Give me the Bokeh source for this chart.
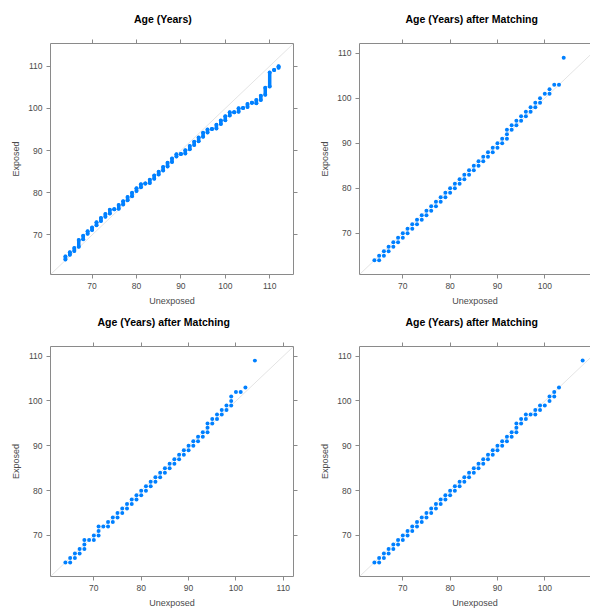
from bokeh.plotting import figure
from bokeh.layouts import column, row
from bokeh.models import Range1d, LinearAxis, FixedTicker, Slope, ColumnDataSource, Title
from bokeh.core.properties import value
from bokeh.embed import file_html
from bokeh.resources import INLINE

# ---------------- data ----------------
ticks = [70, 80, 90, 100, 110]
titles = ["Age (Years)", "Age (Years) after Matching",
          "Age (Years) after Matching", "Age (Years) after Matching"]
x_label = "Unexposed"
y_label = "Exposed"

# Panel 1 (before matching): dense quantile clusters, one per unexposed age
p1_x  = [64, 65, 66, 67, 68, 69, 70, 71, 72, 73, 74, 75, 76, 77, 78, 79, 80, 81, 82, 83,
         84, 85, 86, 87, 88, 89, 90, 91, 92, 93, 94, 95, 96, 97, 98, 99, 100, 101, 102, 103,
         104, 105, 106, 107, 108, 109, 110, 111, 112]
p1_lo = [64.2, 65.3, 66.2, 67.2, 69.0, 70.3, 71.2, 72.3, 73.3, 74.3, 75.1, 76.1, 76.2, 77.2, 78.2, 79.2, 80.4, 81.3, 82.2, 82.3,
         83.3, 84.3, 85.3, 86.2, 87.3, 88.6, 89.2, 89.3, 90.3, 91.3, 92.2, 93.3, 94.3, 95.1, 95.2, 96.3, 97.2, 98.3, 99.1, 99.2,
         100.1, 100.3, 101.3, 101.2, 102.0, 103.2, 105.2, 109.1, 109.6]
p1_hi = [64.9, 65.9, 66.9, 68.8, 69.8, 70.9, 71.8, 73.0, 74.0, 75.0, 76.0, 76.1, 77.1, 78.0, 79.0, 80.0, 81.1, 82.0, 82.2, 83.1,
         84.1, 85.0, 86.1, 87.1, 88.1, 89.1, 89.2, 90.1, 91.1, 92.1, 93.1, 94.2, 95.0, 95.1, 96.1, 97.1, 98.1, 99.1, 99.1, 100.0,
         100.1, 101.0, 101.3, 102.0, 103.0, 104.9, 108.5, 109.1, 110.0]

# Panel 2
p2_x = [64, 65, 65, 66, 66, 67, 67, 68, 68, 69, 69, 70, 70, 71, 71, 72, 72, 73, 73, 74,
        74, 75, 75, 76, 76, 77, 77, 78, 78, 79, 79, 80, 80, 81, 81, 82, 82, 83, 83, 84,
        84, 85, 85, 86, 86, 87, 87, 88, 88, 89, 89, 90, 90, 91, 91, 92, 92, 92, 93, 93,
        94, 94, 95, 95, 96, 96, 97, 97, 98, 98, 99, 99, 100, 101, 101, 102, 103, 104]
p2_y = [64, 64, 65, 65, 66, 66, 67, 67, 68, 68, 69, 69, 70, 70, 71, 71, 72, 72, 73, 73,
        74, 74, 75, 75, 76, 76, 77, 77, 78, 78, 79, 79, 80, 80, 81, 81, 82, 82, 83, 83,
        84, 84, 85, 85, 86, 86, 87, 87, 88, 88, 89, 89, 90, 90, 91, 91, 92, 93, 93, 94,
        94, 95, 95, 96, 96, 97, 97, 98, 98, 99, 99, 100, 101, 101, 102, 103, 103, 109]

# Panel 3
p3_x = [64, 65, 65, 66, 66, 67, 67, 68, 68, 68, 69, 70, 70, 71, 71, 71, 72, 73, 73, 74,
        74, 75, 75, 76, 76, 77, 77, 78, 78, 79, 79, 80, 80, 81, 81, 82, 82, 83, 83, 84,
        84, 85, 85, 86, 86, 87, 87, 88, 88, 89, 89, 90, 90, 91, 91, 92, 92, 93, 93, 94,
        94, 94, 95, 95, 96, 96, 97, 97, 98, 98, 99, 99, 99, 100, 101, 102, 104]
p3_y = [64, 64, 65, 65, 66, 66, 67, 67, 68, 69, 69, 69, 70, 70, 71, 72, 72, 72, 73, 73,
        74, 74, 75, 75, 76, 76, 77, 77, 78, 78, 79, 79, 80, 80, 81, 81, 82, 82, 83, 83,
        84, 84, 85, 85, 86, 86, 87, 87, 88, 88, 89, 89, 90, 90, 91, 91, 92, 92, 93, 93,
        94, 95, 95, 96, 96, 97, 97, 98, 98, 99, 99, 100, 101, 102, 102, 103, 109]

# Panel 4
p4_x = [64, 65, 65, 66, 66, 67, 67, 68, 68, 69, 69, 70, 70, 71, 71, 72, 72, 73, 73, 74,
        74, 75, 75, 76, 76, 77, 77, 78, 78, 79, 79, 80, 80, 81, 81, 82, 82, 83, 83, 84,
        84, 85, 85, 86, 86, 87, 87, 88, 88, 89, 89, 90, 90, 91, 91, 92, 92, 93, 93, 94,
        94, 94, 95, 95, 96, 96, 97, 98, 98, 99, 99, 100, 101, 101, 102, 102, 103, 108]
p4_y = [64, 64, 65, 65, 66, 66, 67, 67, 68, 68, 69, 69, 70, 70, 71, 71, 72, 72, 73, 73,
        74, 74, 75, 75, 76, 76, 77, 77, 78, 78, 79, 79, 80, 80, 81, 81, 82, 82, 83, 83,
        84, 84, 85, 85, 86, 86, 87, 87, 88, 88, 89, 89, 90, 90, 91, 91, 92, 92, 93, 93,
        94, 95, 95, 96, 96, 97, 97, 97, 98, 98, 99, 99, 100, 101, 101, 102, 103, 109]

# ---------------- style ----------------
BLUE = "#0080ff"
BOX = "#8a8a8a"
LABEL = "#4a4a4a"
DIAG = "#e4e4e4"
FONT = "Liberation Sans"
DOT = 4
HEADER_H = 30


def style_axis(ax, labels=True):
    ax.ticker = FixedTicker(ticks=ticks)
    ax.axis_line_color = BOX
    ax.axis_line_width = 1
    ax.major_tick_line_color = BOX
    ax.major_tick_out = 4
    ax.major_tick_in = 0
    ax.minor_tick_line_color = None
    ax.major_label_text_font = FONT
    if labels:
        ax.major_label_text_color = LABEL
        ax.major_label_text_font_size = "8.5px"
        ax.major_label_standoff = 4
    else:
        ax.major_label_text_color = None
        ax.major_label_text_font_size = "1px"
        ax.major_label_standoff = 0
    ax.axis_label_text_font = FONT
    ax.axis_label_text_font_size = "9px"
    ax.axis_label_text_font_style = "normal"
    ax.axis_label_text_color = LABEL


def make_title(text, offset, standoff):
    return Title(text=text, align="left", offset=offset, standoff=standoff,
                 text_font=FONT, text_font_style="bold", text_font_size="10.5px",
                 text_color="#000000")


def make_panel(xr, yr, w, h, bl, br, bt, bb, right_axis):
    p = figure(width=w, height=h, x_range=Range1d(*xr), y_range=Range1d(*yr),
               output_backend="svg", toolbar_location=None,
               min_border_left=bl, min_border_right=br,
               min_border_top=bt, min_border_bottom=bb,
               x_axis_label=x_label, y_axis_label=y_label)
    p.outline_line_color = None
    p.grid.visible = False
    p.background_fill_color = "white"
    p.border_fill_color = "white"
    for ax in p.xaxis + p.yaxis:
        style_axis(ax, True)
    p.xaxis.axis_label_standoff = 4
    p.yaxis.axis_label_standoff = 4
    top = LinearAxis()
    style_axis(top, False)
    p.add_layout(top, "above")
    if right_axis:
        r = LinearAxis()
        style_axis(r, False)
        p.add_layout(r, "right")
    p.add_layout(Slope(gradient=1, y_intercept=0, line_color=DIAG, line_width=1, level="underlay"))
    return p


R1 = (60.64, 115.36)
R = (60.85, 112.15)
RX_cut = (60.85, 109.66)

# header strip holding the top-row titles (pixel-like coordinates)
head = figure(width=590, height=HEADER_H, x_range=Range1d(0, 590), y_range=Range1d(0, HEADER_H),
              output_backend="svg", toolbar_location=None, min_border=0)
head.axis.visible = False
head.grid.visible = False
head.outline_line_color = None
head.text(x=[133.5, 405], y=[HEADER_H - 18.3, HEADER_H - 18.3], text=titles[:2],
          text_font=value(FONT), text_font_style="bold", text_font_size="10.5px",
          text_color="#000000", text_align="left", text_baseline="middle")

# top row (carries the bottom row's titles below it)
p1 = make_panel(R1, R1, 300, 338 - HEADER_H, 50, 7, 43 - HEADER_H, 64, True)
p2 = make_panel(RX_cut, R, 290, 338 - HEADER_H, 59, 0, 43 - HEADER_H, 64, False)
p3 = make_panel(R, R, 300, 272, 50, 7, 8, 33, True)
p4 = make_panel(RX_cut, R, 290, 272, 59, 0, 8, 33, False)

p1.add_layout(make_title(titles[2], 47, 10), "below")
p2.add_layout(make_title(titles[3], 46, 10), "below")

src1 = ColumnDataSource(dict(x=p1_x, lo=p1_lo, hi=p1_hi))
p1.segment(x0="x", y0="lo", x1="x", y1="hi", source=src1,
           line_color=BLUE, line_width=DOT - 0.5, line_cap="round")
p1.scatter(x="x", y="lo", source=src1, size=DOT, fill_color=BLUE, line_color=None)
p1.scatter(x="x", y="hi", source=src1, size=DOT, fill_color=BLUE, line_color=None)

p2.scatter(p2_x, p2_y, size=DOT, fill_color=BLUE, line_color=None)
p3.scatter(p3_x, p3_y, size=DOT, fill_color=BLUE, line_color=None)
p4.scatter(p4_x, p4_y, size=DOT, fill_color=BLUE, line_color=None)

layout = column(head, row(p1, p2), row(p3, p4))
open("out.html", "w").write(file_html(layout, INLINE))
